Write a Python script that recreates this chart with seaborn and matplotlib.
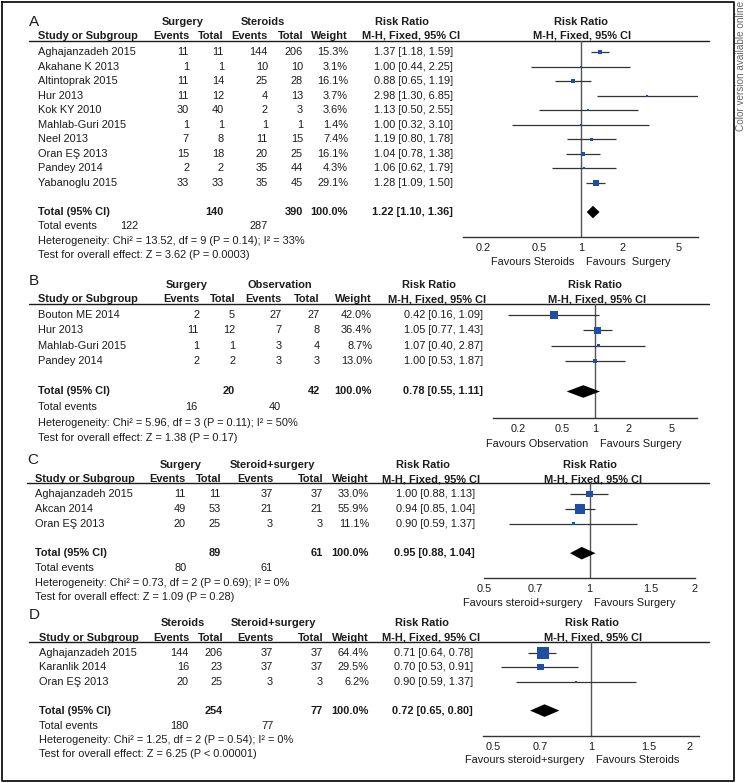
import numpy as np
import matplotlib
matplotlib.use("Agg")
import matplotlib.pyplot as plt
import seaborn as sns

# ---------------- data ----------------
# A: surgery vs steroids
A_STUDY = ["Aghajanzadeh 2015", "Akahane K 2013", "Altintoprak 2015", "Hur 2013", "Kok KY 2010",
           "Mahlab-Guri 2015", "Neel 2013", "Oran EŞ 2013", "Pandey 2014", "Yabanoglu 2015"]
A_EV1 = [11, 1, 11, 11, 30, 1, 7, 15, 2, 33]
A_TOT1 = [11, 1, 14, 12, 40, 1, 8, 18, 2, 33]
A_EV2 = [144, 10, 25, 4, 2, 1, 11, 20, 35, 35]
A_TOT2 = [206, 10, 28, 13, 3, 1, 15, 25, 44, 45]
A_WEIGHT = [15.3, 3.1, 16.1, 3.7, 3.6, 1.4, 7.4, 16.1, 4.3, 29.1]
A_RR = [1.37, 1.00, 0.88, 2.98, 1.13, 1.00, 1.19, 1.04, 1.06, 1.28]
A_LO = [1.18, 0.44, 0.65, 1.30, 0.50, 0.32, 0.80, 0.78, 0.62, 1.09]
A_HI = [1.59, 2.25, 1.19, 6.85, 2.55, 3.10, 1.78, 1.38, 1.79, 1.50]
A_TOTALS = [140, 390]
A_EVENTS = [122, 287]
A_POOLED = [1.22, 1.10, 1.36]
A_HET = "Heterogeneity: Chi² = 13.52, df = 9 (P = 0.14); I² = 33%"
A_TEST = "Test for overall effect: Z = 3.62 (P = 0.0003)"
A_GROUPS = ["Surgery", "Steroids"]
A_FAVOURS = ["Favours Steroids", "Favours  Surgery"]
A_TICKS = [0.2, 0.5, 1, 2, 5]

# B: surgery vs observation
B_STUDY = ["Bouton ME 2014", "Hur 2013", "Mahlab-Guri 2015", "Pandey 2014"]
B_EV1 = [2, 11, 1, 2]
B_TOT1 = [5, 12, 1, 2]
B_EV2 = [27, 7, 3, 3]
B_TOT2 = [27, 8, 4, 3]
B_WEIGHT = [42.0, 36.4, 8.7, 13.0]
B_RR = [0.42, 1.05, 1.07, 1.00]
B_LO = [0.16, 0.77, 0.40, 0.53]
B_HI = [1.09, 1.43, 2.87, 1.87]
B_TOTALS = [20, 42]
B_EVENTS = [16, 40]
B_POOLED = [0.78, 0.55, 1.11]
B_HET = "Heterogeneity: Chi² = 5.96, df = 3 (P = 0.11); I² = 50%"
B_TEST = "Test for overall effect: Z = 1.38 (P = 0.17)"
B_GROUPS = ["Surgery", "Observation"]
B_FAVOURS = ["Favours Observation", "Favours Surgery"]
B_TICKS = [0.2, 0.5, 1, 2, 5]

# C: surgery vs steroid+surgery
C_STUDY = ["Aghajanzadeh 2015", "Akcan 2014", "Oran EŞ 2013"]
C_EV1 = [11, 49, 20]
C_TOT1 = [11, 53, 25]
C_EV2 = [37, 21, 3]
C_TOT2 = [37, 21, 3]
C_WEIGHT = [33.0, 55.9, 11.1]
C_RR = [1.00, 0.94, 0.90]
C_LO = [0.88, 0.85, 0.59]
C_HI = [1.13, 1.04, 1.37]
C_TOTALS = [89, 61]
C_EVENTS = [80, 61]
C_POOLED = [0.95, 0.88, 1.04]
C_HET = "Heterogeneity: Chi² = 0.73, df = 2 (P = 0.69); I² = 0%"
C_TEST = "Test for overall effect: Z = 1.09 (P = 0.28)"
C_GROUPS = ["Surgery", "Steroid+surgery"]
C_FAVOURS = ["Favours steroid+surgery", "Favours Surgery"]
C_TICKS = [0.5, 0.7, 1, 1.5, 2]

# D: steroids vs steroid+surgery
D_STUDY = ["Aghajanzadeh 2015", "Karanlik 2014", "Oran EŞ 2013"]
D_EV1 = [144, 16, 20]
D_TOT1 = [206, 23, 25]
D_EV2 = [37, 37, 3]
D_TOT2 = [37, 37, 3]
D_WEIGHT = [64.4, 29.5, 6.2]
D_RR = [0.71, 0.70, 0.90]
D_LO = [0.64, 0.53, 0.59]
D_HI = [0.78, 0.91, 1.37]
D_TOTALS = [254, 77]
D_EVENTS = [180, 77]
D_POOLED = [0.72, 0.65, 0.80]
D_HET = "Heterogeneity: Chi² = 1.25, df = 2 (P = 0.54); I² = 0%"
D_TEST = "Test for overall effect: Z = 6.25 (P < 0.00001)"
D_GROUPS = ["Steroids", "Steroid+surgery"]
D_FAVOURS = ["Favours steroid+surgery", "Favours Steroids"]
D_TICKS = [0.5, 0.7, 1, 1.5, 2]

g = globals()
PANELS = {}
for k in "ABCD":
    PANELS[k] = {f: g[f"{k}_{f.upper()}"] for f in
                 ["study", "ev1", "tot1", "ev2", "tot2", "weight", "rr", "lo", "hi",
                  "totals", "events", "pooled", "het", "test", "groups", "favours", "ticks"]}

# ---------------- layout (pixels) ----------------
W, H = 746, 783
LAYOUT = {
    "A": dict(label=(29, 22), head1=22, head2=36, line=41, row0=52, pitch=14.55,
              foot=(226, 241, 255), cols=(189, 224, 268, 303, 348), ev_x=(138, 268),
              rr_right=453, rr_head=(402, 411), groups=(183, 263), study_x=38,
              forest=(463, 698), xlim=(0.143, 6.9), axis=237, fav=262, fhead=(581, 582)),
    "B": dict(label=(29, 281), head1=285, head2=299, line=304, row0=315, pitch=15.3,
              foot=(407, 423, 438), cols=(199, 235, 282, 320, 372), ev_x=(197, 281),
              rr_right=483, rr_head=(429, 437), groups=(187, 280), study_x=38,
              forest=(493, 697), xlim=(0.117, 8.52), axis=418, fav=444, fhead=(595, 597)),
    "C": dict(label=(27, 460), head1=465, head2=479, line=483, row0=494, pitch=14.8,
              foot=(568, 583, 597), cols=(186, 221, 273, 323, 369), ev_x=(187, 273),
              rr_right=475, rr_head=(423, 431), groups=(181, 272), study_x=35,
              forest=(484, 695), xlim=(0.5, 2.0), axis=578, fav=603, fhead=(590, 593)),
    "D": dict(label=(29, 615), head1=623, head2=638, line=642, row0=653, pitch=14.4,
              foot=(726, 740, 754), cols=(189, 223, 273, 323, 369), ev_x=(189, 274),
              rr_right=473, rr_head=(422, 431), groups=(183, 273), study_x=39,
              forest=(483, 699), xlim=(0.466, 2.146), axis=736, fav=760, fhead=(592, 593)),
}

INK = "#1c1c1c"
BLUE = "#1f4fa0"
FS = 7.9

sns.set_style("white")
plt.rcParams["font.family"] = ["Liberation Sans", "DejaVu Sans"]

fig = plt.figure(figsize=(W / 100, H / 100), dpi=100)
cv = fig.add_axes([0, 0, 1, 1])
cv.set_xlim(0, W)
cv.set_ylim(H, 0)
cv.axis("off")


def txt(x, y, s, ha="left", bold=False, size=FS, **kw):
    cv.text(x, y, s, ha=ha, va="center", fontsize=size, color=INK,
            fontweight="bold" if bold else "normal", **kw)


def rr_str(v):
    return f"{v[0]:.2f} [{v[1]:.2f}, {v[2]:.2f}]"


for key, d in PANELS.items():
    L = LAYOUT[key]
    n = len(d["study"])
    c = L["cols"]

    # headers
    txt(*L["label"], key, size=11)
    txt(L["groups"][0], L["head1"], d["groups"][0], ha="center", bold=True)
    txt(L["groups"][1], L["head1"], d["groups"][1], ha="center", bold=True)
    txt(L["rr_head"][0], L["head1"], "Risk Ratio", ha="center", bold=True)
    txt(L["fhead"][0], L["head1"], "Risk Ratio", ha="center", bold=True)
    txt(L["study_x"], L["head2"], "Study or Subgroup", bold=True)
    for x, s in zip(c, ["Events", "Total", "Events", "Total", "Weight"]):
        txt(x, L["head2"], s, ha="right", bold=True)
    txt(L["rr_head"][1], L["head2"], "M-H, Fixed, 95% CI", ha="center", bold=True)
    txt(L["fhead"][1], L["head2"], "M-H, Fixed, 95% CI", ha="center", bold=True)
    cv.plot([L["label"][0], 709], [L["line"], L["line"]], color=INK, lw=1)

    # study rows
    for i in range(n):
        y = L["row0"] + i * L["pitch"]
        txt(L["study_x"], y, d["study"][i])
        for x, v in zip(c[:4], [d["ev1"][i], d["tot1"][i], d["ev2"][i], d["tot2"][i]]):
            txt(x, y, str(v), ha="right")
        txt(c[4], y, f"{d['weight'][i]:.1f}%", ha="right")
        txt(L["rr_right"], y, rr_str([d["rr"][i], d["lo"][i], d["hi"][i]]), ha="right")

    # total row
    yt = L["row0"] + (n + 1) * L["pitch"]
    txt(L["study_x"], yt, "Total (95% CI)", bold=True)
    txt(c[1], yt, str(d["totals"][0]), ha="right", bold=True)
    txt(c[3], yt, str(d["totals"][1]), ha="right", bold=True)
    txt(c[4], yt, "100.0%", ha="right", bold=True)
    txt(L["rr_right"], yt, rr_str(d["pooled"]), ha="right", bold=True)

    f1, f2, f3 = L["foot"]
    txt(L["study_x"], f1, "Total events")
    txt(L["ev_x"][0], f1, str(d["events"][0]), ha="right")
    txt(L["ev_x"][1], f1, str(d["events"][1]), ha="right")
    txt(L["study_x"], f2, d["het"])
    txt(L["study_x"], f3, d["test"])

    # forest axes
    x0, x1 = L["forest"]
    ax = fig.add_axes([x0 / W, 1 - L["axis"] / H, (x1 - x0) / W, (L["axis"] - L["line"]) / H])
    ax.set_facecolor("none")
    ax.set_xscale("log")
    ax.set_xlim(*L["xlim"])
    ax.set_ylim((L["axis"] - L["row0"]) / L["pitch"], (L["line"] - L["row0"]) / L["pitch"])
    for s in ["top", "left", "right"]:
        ax.spines[s].set_visible(False)
    ax.spines["bottom"].set_color("#333333")
    ax.spines["bottom"].set_linewidth(1)
    ax.axvline(1, color="#555555", lw=1, zorder=1)

    idx = np.arange(n)
    ax.hlines(idx, d["lo"], d["hi"], color="#333333", lw=0.9, zorder=2)
    side_px = np.maximum(2.0, 1.3 + 0.165 * np.array(d["weight"]))
    sns.scatterplot(x=d["rr"], y=idx, s=(side_px * 0.72) ** 2, marker="s", color=BLUE,
                    edgecolor=BLUE, linewidth=0, legend=False, zorder=3, ax=ax)
    est, lo, hi = d["pooled"]
    hh = 6.3 / L["pitch"]
    r = n + 1
    ax.fill([lo, est, hi, est], [r, r - hh, r, r + hh], color="black", lw=0, zorder=3)

    ax.minorticks_off()
    ax.set_xticks(d["ticks"])
    ax.set_xticklabels([f"{t:g}" for t in d["ticks"]])
    ax.minorticks_off()
    ax.set_yticks([])
    ax.tick_params(axis="x", direction="inout", length=6, width=0.9, color="#333333",
                   labelsize=FS, labelcolor=INK, pad=1.5)
    ax.set_xlabel("")
    ax.set_ylabel("")

    # favours labels relative to the line of no effect
    px1 = x0 + (x1 - x0) * (np.log(1) - np.log(L["xlim"][0])) / (np.log(L["xlim"][1]) - np.log(L["xlim"][0]))
    txt(px1 - 7, L["fav"], d["favours"][0], ha="right")
    txt(px1 + 5, L["fav"], d["favours"][1], ha="left")

# frame and side note
cv.plot([2, 734, 734, 2, 2], [2, 2, 781, 781, 2], color="black", lw=1.2)
cv.text(741, 1, "Color version available online", rotation=90, ha="center", va="top",
        fontsize=7.2, color="#666666")

fig.savefig("out.png", dpi=100)
